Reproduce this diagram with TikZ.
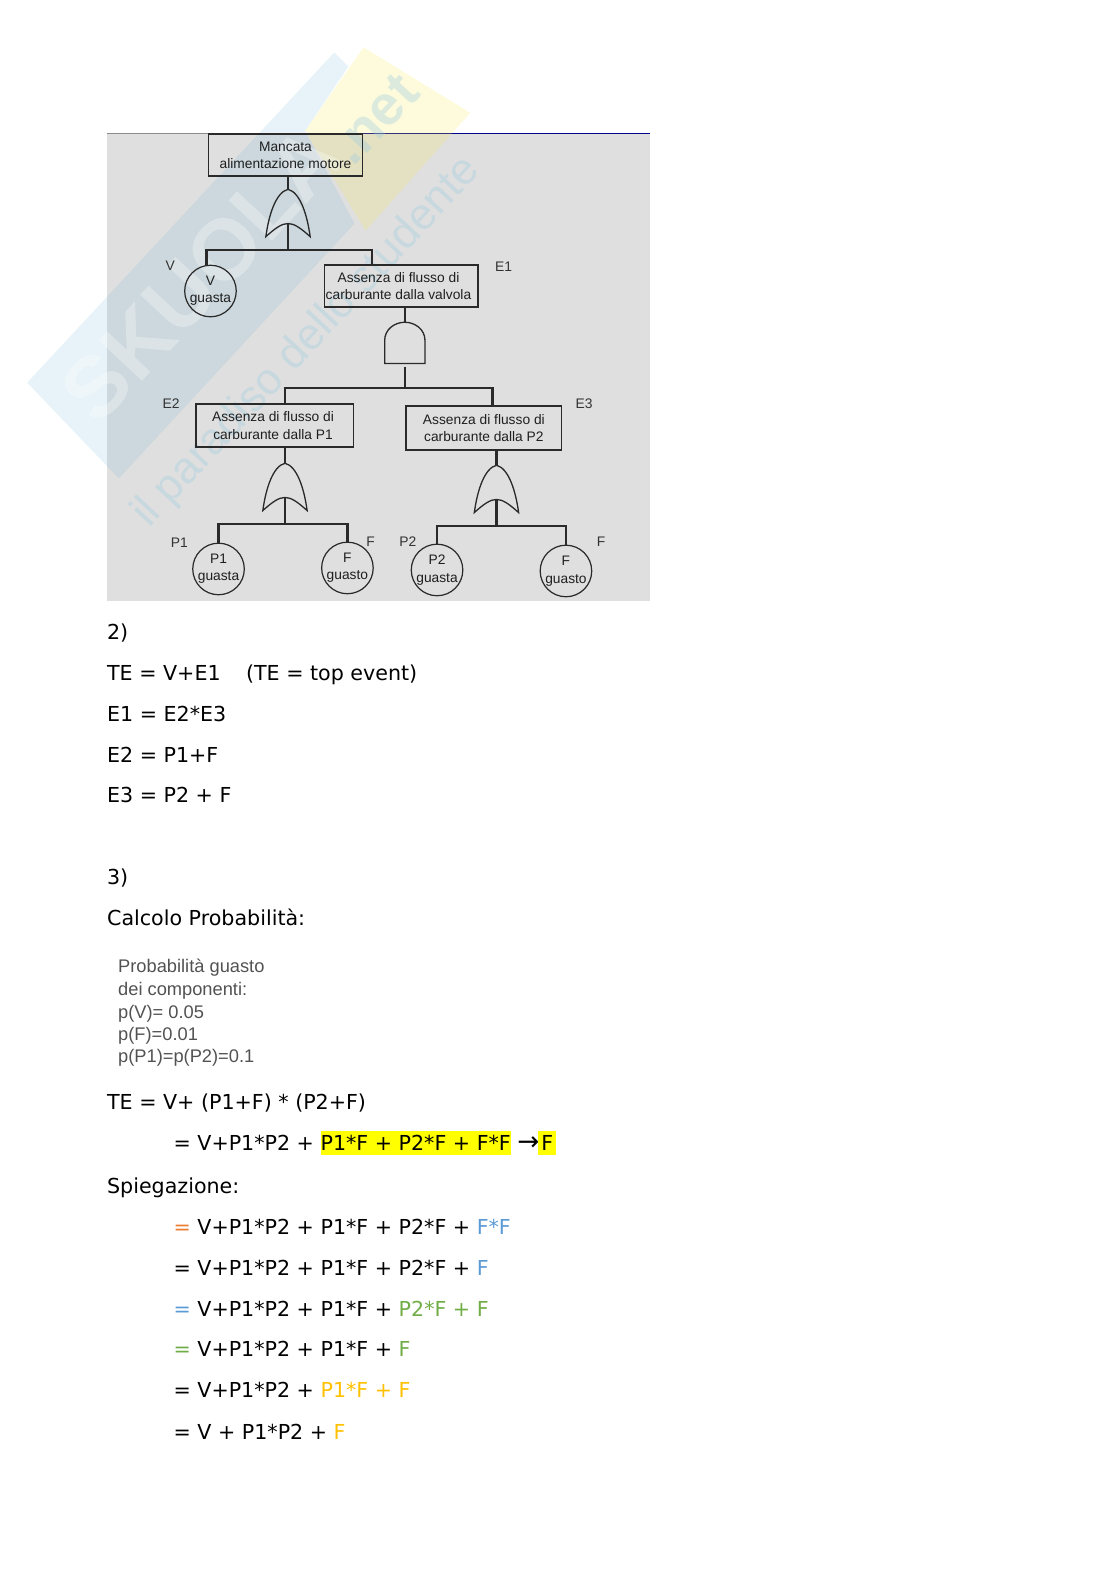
\documentclass[tikz,border=0pt]{standalone}
\usepackage{fontspec}
\setmainfont{DejaVu Sans}
\newfontfamily\arialf{Liberation Sans}
\definecolor{bggray}{HTML}{DFDFDF}
\definecolor{ink}{HTML}{2A2A2A}
\definecolor{wmblue}{HTML}{6FB6D6}
\definecolor{wmyellow}{HTML}{F7EC4A}
\definecolor{wmtext}{HTML}{9CCBE0}
\definecolor{corange}{HTML}{ED7D31}
\definecolor{cblue}{HTML}{5B9BD5}
\definecolor{cgreen}{HTML}{70AD47}
\definecolor{cgold}{HTML}{FFC000}
\definecolor{hl}{HTML}{FFFF00}
\newcommand{\hlt}[1]{{\setlength{\fboxsep}{0pt}\colorbox{hl}{\rule[-2.7pt]{0pt}{12.9pt}#1}}}
\tikzset{
  x=0.5372pt,y=-0.5372pt,
  boxn/.style={draw=ink,line width=0.75pt,rectangle,inner sep=0pt,align=center,font=\arialf\fontsize{7.35}{9.2}\selectfont,text=black!88},
  circn/.style={draw=ink,line width=0.65pt,circle,inner sep=0pt,minimum size=27.5pt,align=center,font=\arialf\fontsize{7.35}{9.3}\selectfont,text=black!88},
  tag/.style={font=\arialf\fontsize{7.4}{9}\selectfont,text=black!80},
  wire/.style={draw=ink,line width=1.15pt},
  gateline/.style={draw=ink,line width=0.7pt},
  doc/.style={anchor=base west,font=\fontsize{11}{13}\selectfont,inner sep=0pt},
  prob/.style={anchor=base west,font=\arialf\fontsize{9.75}{11}\selectfont,inner sep=0pt,text=black!68},
  orgate/.pic={
    \draw[gateline] (0,0) .. controls (12,3) and (19,25) .. (22,47)
      .. controls (12,38) and (6,34) .. (0,34)
      .. controls (-6,34) and (-12,38) .. (-22,47)
      .. controls (-19,25) and (-12,3) .. (0,0) -- cycle;
    \coordinate (-top) at (0,0);
    \coordinate (-bot) at (0,34);
  },
  andgate/.pic={
    \draw[gateline] (-20,41) -- (-20,18) .. controls (-20,7) and (-10,0) .. (0,0)
      .. controls (10,0) and (20,7) .. (20,18) -- (20,41) -- cycle;
    \coordinate (-top) at (0,0);
    \coordinate (-bot) at (0,44);
  }
}
\begin{document}
\begin{tikzpicture}
\useasboundingbox (0,0) rectangle (1108,1568);
% photo background
\fill[bggray] (106,132) rectangle (645,597);
\draw[black!45,line width=0.5pt] (106,132.5) -- (360,132.5);
\draw[blue!55!black,line width=0.9pt] (360,132.5) -- (645,132.5);
% watermark
\fill[wmblue,opacity=.17] (27,380) -- (332,52) -- (346,66) -- (303,130) -- (352,222) -- (118,475) -- cycle;
\fill[wmyellow,opacity=.2] (361,47) -- (467,112) -- (363,229) -- (303,130) -- cycle;
\node[rotate=47,opacity=.3,text=white,font=\arialf\bfseries\fontsize{46}{50}\selectfont,inner sep=0pt] (wmA) at (200,272) {SKUOLA};
\node[rotate=47,opacity=.35,text=wmtext,font=\arialf\bfseries\fontsize{30}{34}\selectfont,inner sep=0pt] (wmB) at (372,118) {.net};
\node[rotate=47,opacity=.35,text=wmtext,font=\arialf\fontsize{23.5}{27}\selectfont,inner sep=0pt] (wmC) at (305,340) {il paradiso dello studente};

% boxes
\node[boxn,minimum width=82pt,minimum height=22.5pt] (top) at (283.5,154) {Mancata\\alimentazione motore};
\node[boxn,minimum width=82pt,minimum height=22.5pt] (e1) at (398.5,284) {Assenza di flusso di\hspace*{3pt}\\carburante dalla valvola\hspace*{3pt}};
\node[boxn,minimum width=84pt,minimum height=23pt] (e2) at (273,422.5) {Assenza di flusso di\hspace*{2pt}\\carburante dalla P1\hspace*{2pt}};
\node[boxn,minimum width=83pt,minimum height=23.5pt] (e3) at (480.5,425) {Assenza di flusso di\\carburante dalla P2};
% basic events
\node[circn] (cv) at (209,289) {\raisebox{1.2pt}{V}\\\raisebox{1.4pt}{guasta}};
\node[circn] (cp1) at (217,565) {P1\\guasta};
\node[circn] (cf1) at (345,564) {F\\guasto};
\node[circn] (cp2) at (434,566) {P2\\guasta};
\node[circn] (cf2) at (562,567) {F\\guasto};
% gates
\pic (g1) at (286,188) {orgate};
\pic (g2) at (402,320) {andgate};
\pic (g3) at (283,460) {orgate};
\pic (g4) at (493,462) {orgate};
% junctions
\coordinate (j1) at (286,248);
\coordinate (j2) at (402,385);
\coordinate (j3) at (283,520);
\coordinate (j4) at (493,522);
% connectors
\draw[wire] (top.south -| g1-top) -- (g1-top);
\draw[wire] (g1-bot) -- (j1);
\draw[wire] (cv.north -| 205,0) |- (j1);
\draw[wire] (e1.north -| 369,0) |- (j1);
\draw[wire] (e1.south -| g2-top) -- (g2-top);
\draw[wire] (g2-bot) -- (j2);
\draw[wire] (e2.north -| 283,0) |- (j2);
\draw[wire] (e3.north -| 489,0) |- (j2);
\draw[wire] (e2.south -| g3-top) -- (g3-top);
\draw[wire] (g3-bot) -- (j3);
\draw[wire] (cp1.north) |- (j3);
\draw[wire] (cf1.north) |- (j3);
\draw[wire] (e3.south -| g4-top) -- (g4-top);
\draw[wire] (g4-bot) -- (j4);
\draw[wire] (cp2.north) |- (j4);
\draw[wire] (cf2.north) |- (j4);
% tags
\node[tag] (tV) at (169,264) {V};
\node[tag] (tE1) at (500,265) {E1};
\node[tag] (tE2) at (170,401) {E2};
\node[tag] (tE3) at (580,401) {E3};
\node[tag] (tP1) at (178,539) {P1};
\node[tag] (tF1) at (368,538) {F};
\node[tag] (tP2) at (405,538) {P2};
\node[tag] (tF2) at (597,538) {F};

% document text
\node[doc] (l1) at (106,635) {2)};
\node[doc] (l2) at (106,676) {TE = V+E1};
\node[doc] (l2b) at (244,676) {(TE = top event)};
\node[doc] (l3) at (106,716) {E1 = E2*E3};
\node[doc] (l4) at (106,757) {E2 = P1+F};
\node[doc] (l5) at (106,797) {E3 = P2 + F};
\node[doc] (l6) at (106,878) {3)};
\node[doc] (l7) at (106,919) {Calcolo Probabilità:};
\node[prob] (p1) at (117,966) {Probabilità guasto};
\node[prob] (p2) at (117,989) {dei componenti:};
\node[prob] (p3) at (117,1011) {p(V)= 0.05};
\node[prob] (p4) at (117,1033) {p(F)=0.01};
\node[prob] (p5) at (117,1055) {p(P1)=p(P2)=0.1};
\node[doc] (l8) at (106,1102) {TE = V+ (P1+F) * (P2+F)};
\node[doc] (l9) at (172,1142) {= V+P1*P2 + \hlt{P1*F + P2*F + F*F} \smash{\fontsize{14}{14}\selectfont →}\kern-0.6pt\hlt{\hspace{1.6pt}F\hspace{1.6pt}}};
\node[doc] (l10) at (106,1185) {Spiegazione:};
\node[doc] (l11) at (172,1226) {\textcolor{corange}{=} V+P1*P2 + P1*F + P2*F + \textcolor{cblue}{F*F}};
\node[doc] (l12) at (172,1267) {= V+P1*P2 + P1*F + P2*F + \textcolor{cblue}{F}};
\node[doc] (l13) at (172,1307) {\textcolor{cblue}{=} V+P1*P2 + P1*F + \textcolor{cgreen}{P2*F + F}};
\node[doc] (l14) at (172,1347) {\textcolor{cgreen}{=} V+P1*P2 + P1*F + \textcolor{cgreen}{F}};
\node[doc] (l15) at (172,1388) {= V+P1*P2 + \textcolor{cgold}{P1*F + F}};
\node[doc] (l16) at (172,1429) {= V + P1*P2 + \textcolor{cgold}{F}};
\end{tikzpicture}
\end{document}
